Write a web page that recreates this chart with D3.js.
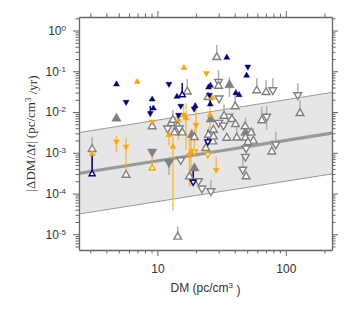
<!DOCTYPE html>
<html>
<head>
<meta charset="utf-8">
<script src="https://cdn.jsdelivr.net/npm/d3@7"></script>
<style>
body { margin: 0; background: #fff; }
text { font-family: "Liberation Sans", Arial, sans-serif; }
</style>
</head>
<body>
<svg id="chart" width="350" height="321"></svg>
<script>
'use strict';

// rows: [DM, |dDM/dt|, bar top, bar bottom, direction (1 up, -1 down), filled (1) / open (0)]
var grayRows = [
	[4.8, 0.00693, null, null, 1, 1],
	[9.1, 0.00106, null, null, -1, 1],
	[12.3, 5.84e-4, null, 2.85e-4, -1, 1],
	[36.4, 0.046, 0.0723, 0.0234, 1, 1],
	[26.0, 0.0066, null, null, 1, 1],
	[48.5, 0.00311, 0.0072, null, 1, 1],
	[19.4, 4.16e-4, null, null, 1, 1],
	[18.5, 0.00273, null, null, 1, 1],
	[29.0, 0.22, 0.441, null, 1, 0],
	[17.1, 0.0315, 0.0646, null, 1, 0],
	[29.9, 0.0554, 0.107, null, -1, 0],
	[29.9, 0.0435, null, null, 1, 0],
	[24.8, 0.023, null, null, 1, 0],
	[30.2, 0.0217, null, null, -1, 0],
	[40.3, 0.0137, 0.0277, null, 1, 0],
	[59.4, 0.0337, 0.0672, null, 1, 0],
	[70.2, 0.0305, 0.061, null, 1, 0],
	[79.2, 0.0347, 0.0672, null, -1, 0],
	[124, 0.0262, 0.0507, null, -1, 0],
	[129, 0.0093, 0.0197, null, 1, 0],
	[65.0, 0.0062, 0.0135, null, 1, 0],
	[70.9, 0.00776, 0.0141, 0.00362, -1, 0],
	[55.9, 0.00195, 0.00399, null, 1, 0],
	[83.6, 0.00161, 0.00329, null, -1, 0],
	[77.8, 0.00106, 0.00206, null, 1, 0],
	[3.1, 0.00122, 0.00244, null, 1, 0],
	[5.7, 2.85e-4, null, null, 1, 0],
	[9.1, 0.00441, null, null, 1, 0],
	[14.4, 8.6e-6, 1.54e-5, null, 1, 0],
	[12.0, 0.00399, null, null, -1, 0],
	[12.8, 0.00529, null, null, 1, 0],
	[13.2, 0.00637, 0.0112, null, 1, 0],
	[14.4, 0.00454, null, null, 1, 0],
	[14.8, 0.00399, null, null, -1, 0],
	[13.6, 0.00311, null, null, 1, 0],
	[15.6, 0.00311, null, null, 1, 0],
	[15.2, 6.65e-4, null, null, -1, 0],
	[17.75, 2.59e-4, null, null, 1, 0],
	[20.9, 2.03e-4, null, null, -1, 0],
	[22.2, 1.34e-4, null, null, -1, 0],
	[26.1, 1.15e-4, 2.15e-4, null, -1, 0],
	[23.8, 0.00129, null, null, 1, 0],
	[25.0, 0.00273, 0.0042, null, 1, 0],
	[27.3, 0.00362, null, null, 1, 0],
	[27.0, 0.00187, null, null, 1, 0],
	[30.0, 0.0055, null, null, -1, 0],
	[32.7, 0.0047, null, null, -1, 0],
	[36.0, 0.0078, null, null, -1, 0],
	[33.0, 0.0080, 0.0152, null, 1, 0],
	[38.0, 0.00663, null, null, 1, 0],
	[40.6, 0.005, null, null, 1, 0],
	[34.7, 0.00231, null, null, 1, 0],
	[41.5, 0.00233, 0.005, null, 1, 0],
	[48.5, 0.00233, null, null, 1, 0],
	[50.7, 0.00181, null, null, 1, 0],
	[49.1, 0.00129, null, null, -1, 0],
	[48.5, 8.0e-4, null, null, -1, 0],
	[46.2, 3.89e-4, 8.8e-4, null, -1, 0],
	[49.1, 2.62e-4, null, null, 1, 0],
	[19.4, 0.0024, null, null, 1, 0],
	[48.2, 0.00441, null, null, 1, 0],
	[53.7, 0.00311, null, null, 1, 0],
	[27.3, 0.00248, null, null, 1, 0]
];

var orangeRows = [
	[6.95, 0.0554, null, null, 1, 1],
	[16.1, 0.122, null, null, 1, 1],
	[24.1, 0.0891, null, null, -1, 1],
	[4.8, 0.00187, 0.0026, 0.00104, -1, 1],
	[5.7, 0.00141, 0.00234, 3.38e-4, -1, 1],
	[3.1, 9.3e-4, null, 3.38e-4, 1, 1],
	[9.1, 0.00579, null, null, -1, 1],
	[9.1, 4.16e-4, 8.82e-4, null, 1, 0],
	[13.2, 0.00141, 0.00248, 3.73e-5, 1, 1],
	[12.3, 0.00273, 0.004, 0.0015, 1, 1],
	[16.7, 0.00701, 0.0166, 0.00117, 1, 1],
	[16.0, 0.00845, 0.0149, null, -1, 1],
	[20.0, 0.00481, 0.0126, 0.00206, -1, 1],
	[17.75, 8.8e-4, 0.00206, 1.47e-4, -1, 1],
	[19.4, 0.00106, 0.00399, null, -1, 0],
	[14.6, 0.00637, null, 0.00206, 1, 1],
	[24.7, 9.18e-4, null, null, -1, 0],
	[28.7, 3.8e-4, 7.9e-4, null, -1, 1],
	[26.8, 0.0221, null, null, 1, 1],
	[25.7, 0.00845, 0.0197, 0.004, 1, 1],
	[18.3, 0.00106, 0.0035, 1.53e-4, 1, 1]
];

var navyRows = [
	[4.8, 0.048, null, null, 1, 1],
	[5.7, 0.0176, null, null, -1, 1],
	[9.1, 0.0205, null, null, 1, 1],
	[9.3, 0.0123, null, null, 1, 1],
	[8.8, 0.0093, 0.0141, null, -1, 1],
	[12.3, 0.0487, null, null, -1, 1],
	[14.2, 0.0238, null, null, 1, 1],
	[15.6, 0.0262, 0.0515, null, 1, 0],
	[15.2, 0.0141, null, null, -1, 1],
	[14.6, 0.00845, null, null, -1, 1],
	[19.3, 0.012, null, null, -1, 1],
	[19.7, 0.0141, null, null, 1, 1],
	[25.0, 0.0404, null, null, 1, 1],
	[25.9, 0.0445, null, null, 1, 1],
	[34.7, 0.218, null, null, 1, 1],
	[50.6, 0.129, null, null, -1, 1],
	[49.5, 0.0787, null, null, 1, 1],
	[40.8, 0.0293, null, null, 1, 1],
	[43.3, 0.0262, null, null, 1, 1],
	[25.8, 0.0155, 0.0277, null, 1, 1],
	[25.4, 0.0262, null, null, -1, 1],
	[24.7, 0.00187, 0.00362, null, -1, 0],
	[19.0, 1.92e-4, 4.16e-4, null, -1, 0],
	[3.1, 3.02e-4, 9.3e-4, null, 1, 0]
];

// |dDM/dt| ~ 2e-4 * DM^0.5, band of one decade either side
var fitCoeff = 2e-4;
var fitIndex = 0.5;
var bandFactor = 10;

var xDomain = [2.45, 229];
var yDomain = [4.1e-6, 2.15];
var xLabelValues = [10, 100];

var svg = d3.select('#chart');
var m = {left: 79, right: 332, top: 17, bottom: 250};

var x = d3.scaleLog().domain(xDomain).range([m.left, m.right]);
var y = d3.scaleLog().domain(yDomain).range([m.bottom, m.top]);

svg.append('defs').append('clipPath').attr('id', 'clip')
    .append('rect')
    .attr('x', m.left).attr('y', m.top)
    .attr('width', m.right - m.left).attr('height', m.bottom - m.top);

var plot = svg.append('g').attr('clip-path', 'url(#clip)');

// 帯と中心線
function fit(d) { return fitCoeff * Math.pow(d, fitIndex); }
var grid = d3.range(0, 21).map(function(i) {
	return xDomain[0] * Math.pow(xDomain[1] / xDomain[0], i / 20);
});

plot.append('path').datum(grid)
    .attr('fill', '#e6e6e6')
    .attr('d', d3.area()
	  .x(function(d) { return x(d); })
	  .y0(function(d) { return y(fit(d) / bandFactor); })
	  .y1(function(d) { return y(fit(d) * bandFactor); }));

[bandFactor, 1 / bandFactor].forEach(function(f) {
	plot.append('path').datum(grid)
	    .attr('fill', 'none')
	    .attr('stroke', '#999')
	    .attr('stroke-width', 1)
	    .attr('d', d3.line()
		  .x(function(d) { return x(d); })
		  .y(function(d) { return y(fit(d) * f); }));
});

plot.append('path').datum(grid)
    .attr('fill', 'none')
    .attr('stroke', '#999')
    .attr('stroke-width', 3.2)
    .attr('d', d3.line()
	  .x(function(d) { return x(d); })
	  .y(function(d) { return y(fit(d)); }));

// 系列
var series = [
	{rows: grayRows, color: '#808080', bar: '#a8a8a8', barOpacity: 0.9, filledSize: 38, openSize: 26},
	{rows: orangeRows, color: '#ffa500', bar: '#ffa500', barOpacity: 0.65, filledSize: 15, openSize: 16},
	{rows: navyRows, color: '#000080', bar: '#000080', barOpacity: 1, filledSize: 15, openSize: 16}
];

// error bars first, then markers on top
series.forEach(function(s) {
	var g = plot.append('g');
	s.rows.forEach(function(r) {
		[r[2], r[3]].forEach(function(end) {
			if (end === null) return;
			g.append('line')
			    .attr('x1', x(r[0])).attr('x2', x(r[0]))
			    .attr('y1', y(r[1])).attr('y2', y(end))
			    .attr('stroke', s.bar)
			    .attr('stroke-opacity', s.barOpacity)
			    .attr('stroke-width', 1.5);
		});
	});
});

series.forEach(function(s) {
	plot.append('g')
	    .selectAll('path')
	    .data(s.rows)
	    .enter()
	    .append('path')
	    .attr('d', function(d) {
		    return d3.symbol().type(d3.symbolTriangle)
			.size(d[5] ? s.filledSize : s.openSize)();
		})
	    .attr('transform', function(d) {
		    return 'translate(' + x(d[0]) + ',' + y(d[1]) + ')' + (d[4] < 0 ? ' rotate(180)' : '');
		})
	    .attr('fill', function(d) { return d[5] ? s.color : '#fff'; })
	    .attr('stroke', s.color)
	    .attr('stroke-width', function(d) { return d[5] ? 0.5 : 1.4; });
});

// 軸
function isPow(v) {
	var l = Math.log10(v);
	return Math.abs(l - Math.round(l)) < 1e-6;
}
function styleAxis(g, horizontal, sign) {
	g.select('.domain').attr('stroke', '#666').attr('stroke-width', 1.3);
	g.selectAll('.tick line')
	    .attr('stroke', '#666')
	    .attr(horizontal ? 'y2' : 'x2', function(d) { return sign * (isPow(d) ? 6 : 3.5); });
	g.selectAll('.tick text').attr('fill', '#333').style('font-size', '12px');
}

var xTicks = x.ticks();
var yTicks = y.ticks();

var xb = svg.append('g')
    .attr('transform', 'translate(0,' + m.bottom + ')')
    .call(d3.axisBottom(x).tickValues(xTicks).tickSizeOuter(0).tickPadding(8)
	  .tickFormat(function(d) {
		  return xLabelValues.some(function(v) { return Math.abs(v - d) < 1e-6; }) ? d3.format('d')(d) : '';
	      }));
styleAxis(xb, true, 1);

var xt = svg.append('g')
    .attr('transform', 'translate(0,' + m.top + ')')
    .call(d3.axisTop(x).tickValues(xTicks).tickSizeOuter(0).tickFormat(''));
styleAxis(xt, true, -1);

var yl = svg.append('g')
    .attr('transform', 'translate(' + m.left + ',0)')
    .call(d3.axisLeft(y).tickValues(yTicks).tickSizeOuter(0).tickPadding(7).tickFormat(''));
styleAxis(yl, false, -1);

yl.selectAll('.tick').filter(function(d) { return isPow(d); })
    .select('text')
    .each(function(d) {
	    var t = d3.select(this);
	    t.append('tspan').text('10');
	    t.append('tspan')
		.attr('dy', '-0.5em')
		.style('font-size', '8px')
		.text(Math.round(Math.log10(d)));
	});

var yr = svg.append('g')
    .attr('transform', 'translate(' + m.right + ',0)')
    .call(d3.axisRight(y).tickValues(yTicks).tickSizeOuter(0).tickFormat(''));
styleAxis(yr, false, 1);

// ラベル
var xl = svg.append('text')
    .attr('x', (m.left + m.right) / 2)
    .attr('y', 292)
    .attr('text-anchor', 'middle')
    .attr('fill', '#333')
    .style('font-size', '12px');
xl.append('tspan').text('DM (pc/cm');
xl.append('tspan').attr('dy', '-0.45em').style('font-size', '8px').text('3');
xl.append('tspan').attr('dy', '0.45em').text(' )');

var ylab = svg.append('text')
    .attr('transform', 'translate(35,' + (m.top + m.bottom) / 2 + ') rotate(-90)')
    .attr('text-anchor', 'middle')
    .attr('fill', '#333')
    .style('font-family', '"Liberation Serif", "DejaVu Serif", serif')
    .style('font-size', '13px');
ylab.append('tspan').text('|ΔDM/Δ');
ylab.append('tspan').style('font-style', 'italic').text('t');
ylab.append('tspan').text('| (pc/cm');
ylab.append('tspan').attr('dy', '-0.45em').style('font-size', '9px').text('3');
ylab.append('tspan').attr('dy', '0.45em').text(' /yr)');
</script>
</body>
</html>
